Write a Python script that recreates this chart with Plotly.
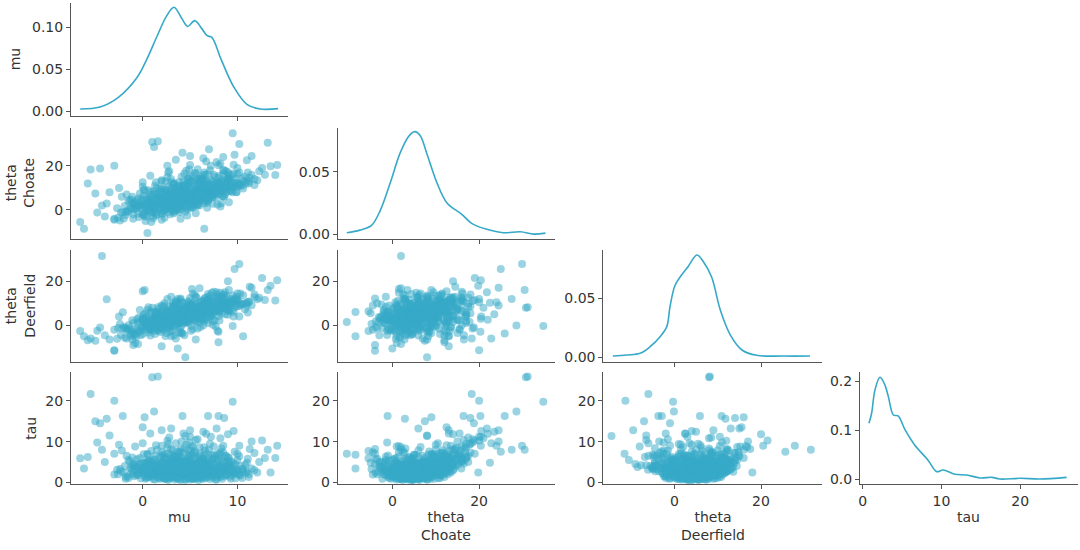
import plotly.graph_objects as go

# posterior draws (same index = same draw in every list)
mu = [
    4.2, 3.1, 5.6, 1.2, 7.3, 2.5, 6.1, 0.3, 8.8, 4.9,
    3.6, -1.2, 5.0, 9.6, 2.0, 6.8, 1.6, 4.5, 10.3, 3.3,
    5.3, 0.8, 7.9, 2.9, 6.4, -0.5, 4.0, 8.2, 1.9, 5.9,
    3.8, 9.1, 2.2, 6.6, -2.0, 4.7, 7.0, 0.1, 5.4, 3.0,
    11.2, 1.4, 4.3, 8.5, 2.7, 6.2, -0.9, 5.1, 3.5, 9.9,
    4.6, 2.3, 7.6, 0.6, 5.7, 3.9, 10.8, -1.6, 6.9, 1.0,
    4.4, 8.0, 2.6, 5.5, -2.7, 3.4, 7.4, 1.8, 9.3, 4.8,
    0.0, 6.0, 3.2, 12.1, 2.1, 5.2, 7.7, -0.2, 4.1, 8.6,
    1.5, 6.5, 3.7, 10.0, 2.8, 5.8, -1.0, 4.9, 7.1, 0.4,
    5.0, 3.0, 8.9, 1.3, 6.3, 4.2, 11.5, 2.4, 5.6, -3.0,
    3.6, 7.2, 0.9, 4.5, 9.4, 2.0, 6.7, 3.3, 5.3, 1.1,
    8.3, 4.0, -0.7, 6.0, 2.6, 7.8, 3.9, 10.6, 5.1, 1.7,
    4.6, 0.2, 6.4, 3.1, 8.1, -1.4, 5.7, 2.4, 9.0, 4.3,
    7.5, 1.9, 5.9, 3.5, -2.3, 6.8, 4.7, 2.8, 10.1, 0.7,
    -5.5, 1.0, 1.6, -3.0, 9.5, 1.2, 4.2, 6.9, 8.0, -3.8,
    -2.1, -5.0, 8.6, 0.2, -4.3, -6.6, -6.2, -5.8, -4.8, -4.5,
    13.5, 14.2, 13.2, 12.6, 12.9, 11.8, 14.0, 10.2, 9.7, 7.0,
    0.5, 6.5, 4.5, 3.7, -3.0, -0.5, 2.0, 8.0, 10.6, -1.0,
    5.0, 6.7, 2.6, 3.5, 8.5, 11.0, 7.8, 0.0,
    3.8, 5.4, 2.2, 6.1, 4.5, 0.9, 7.4, 3.2, 9.7, 1.3,
    5.2, 4.1, 8.4, -1.8, 6.3, 2.7, 5.8, 3.4, 7.1, 0.5,
    4.8, 9.2, 2.1, 6.6, 3.9, -0.3, 5.5, 8.0, 1.6, 4.4,
    7.6, 2.9, -3.5, 0.8, 3.0, 5.8, 9.0, -2.5, 11.5, 12.3, -4.0, 6.0,
    3.4, 5.9, 1.1, 7.8, 4.6, -1.5, 9.8, 2.7, 6.7, 0.3,
    5.1, 2.3, 8.2, -1.1, 4.0, 10.2, 6.1, 0.9, 3.3, 7.5,
    4.9, 2.0, 6.2, 3.1, 8.7, 1.4, 5.6, 9.0, -0.4, 4.3,
    7.0, 3.6, 0.6, 5.8, 2.9, 8.0, 4.1, 6.5, 1.8, 10.9,
    3.7, 5.3, -0.8, 7.3, 2.4, 6.0, 4.4, 9.5, 1.2, 5.0,
    3.9, 6.8, 2.5, 8.4, 0.2, 4.7, 7.2, 3.0, 5.7, 1.6,
    11.8, 4.2, -2.4, 6.4, 2.8, 8.9, 5.4, 0.0, 7.9, 3.5,
    4.8, 1.0, 6.9, 3.2, 9.3, 2.2, 5.6, -1.3, 7.7, 4.5,
    2.9, 6.3, 0.7, 5.2, 8.6, 3.8, 10.5, 1.9, 6.0, 4.3,
    -0.1, 5.9, 3.3, 7.6, 2.5, 9.1, 4.9, 1.3, 6.7, 3.6,
    8.1, 2.1, 5.5, 4.0, 0.4, 7.0, 3.1, 6.1, 10.3, 1.7,
    4.6, -1.9, 6.6, 3.4, 8.3, 2.6, 5.1, 7.4, 0.8, 4.2,
    5.9, 2.9, 8.8, -0.6, 4.4, 6.9, 1.5, 10.0, 3.7, 7.1,
    2.0, 5.3, -2.2, 8.2, 4.1, 11.3, 0.0, 6.4, 2.8, 9.6,
    -1.8, 10.5, 0.9, 9.2, 2.4, 8.4, -0.9, 11.2, 1.7, 7.1,
    3.0, 6.3, 1.2, 9.6, -1.2, 4.9, 7.9, 2.3, 5.6, 0.3,
    3.9, 5.0, 6.6, 2.0, 8.8, 4.3, 0.6, 7.4, 3.5, 5.7,
    -2.6, 11.0, 0.0, 9.9, 1.4, 8.1, -0.5, 10.2, 2.9, 6.9,
    4.6, 3.2, 5.8, 1.1, 7.6, 4.0, 6.2, 2.6, 8.7, 0.2,
    4.5, 6.5, 2.2, 5.3, 8.3, -0.2, 3.6, 7.2, 1.5, 5.1,
    3.1, 6.0, 0.9, 8.0, 4.2, 2.5, 6.8, -1.5, 5.4, 9.4,
    3.3, 6.1, 1.8, 4.8, 7.7, 0.5, 5.5, 2.7, 8.5, 4.0,
    6.3, 3.7, 5.4, 4.5, 2.8, 7.0, 1.3, 9.3, 6.0, 3.0,
    4.9, 2.1, 7.3, 0.7, 6.4, 3.4, 9.7, 5.6, -1.0, 8.2,
    4.4, 1.9, 6.9, 3.8, 5.2, 2.4, 7.8, 4.7, 0.4, 6.6,
    3.5, 5.9, 1.6, 7.4, 4.1, 9.0, 2.7, 6.7, -0.4, 5.0,
    0.1, 9.1, 4.4, 2.0, 6.6, -1.7, 11.1, 5.2, 3.0, 7.9,
    1.1, 5.7, 8.7, 3.9, -0.3, 6.4, 2.4, 10.0, 4.7, 7.3,
    0.8, 5.5, 3.3, 8.5, 2.0, 6.2, -1.1, 9.8, 4.6, 7.0,
    3.7, 5.0, 2.6, 7.5, 1.0, 6.0, 4.2, 8.9, -0.6, 5.8,
    3.6, 6.8, 1.7, 9.4, 4.8, 0.0, 5.9, 2.8, 7.6, 4.1,
    3.2, 6.5, 1.4, 8.3, 4.9, -0.8, 5.6, 2.7, 7.2, 4.3,
    4.0, 5.3, 2.3, 7.7, 3.0, 6.1, 0.5, 8.1, 4.9, 1.8,
    5.1, 3.5, 6.7, 1.3, 8.8, 4.4, 2.2, 7.1, 5.8, 0.6,
]
tau = [
    2.1, 1.5, 3.4, 2.8, 1.9, 4.6, 2.4, 1.2, 3.0, 5.2,
    1.0, 2.3, 1.7, 2.2, 6.3, 4.1, 1.4, 2.9, 1.6, 3.7,
    0.9, 3.3, 2.6, 2.0, 5.8, 1.8, 4.4, 1.3, 2.5, 3.1,
    7.2, 4.0, 1.1, 2.7, 2.4, 1.6, 3.8, 4.9, 2.2, 6.8,
    2.0, 3.6, 0.8, 5.1, 2.2, 1.4, 3.9, 4.7, 2.6, 3.2,
    9.3, 1.9, 2.3, 5.5, 1.2, 3.5, 4.3, 1.5, 6.0, 2.1,
    3.0, 1.8, 4.2, 2.5, 3.1, 1.3, 5.6, 0.9, 2.8, 7.9,
    2.6, 3.3, 1.7, 2.4, 5.0, 2.0, 4.5, 1.0, 3.9, 1.5,
    3.2, 2.1, 5.9, 2.9, 1.6, 4.8, 2.7, 1.1, 3.6, 4.0,
    11.2, 2.3, 2.0, 6.5, 1.7, 2.8, 3.4, 3.0, 0.9, 1.9,
    4.6, 2.5, 1.4, 5.3, 1.8, 2.9, 3.8, 1.2, 7.0, 2.2,
    3.5, 1.5, 3.7, 2.4, 8.5, 1.3, 2.7, 2.6, 3.1, 4.3,
    2.0, 1.7, 4.9, 3.3, 2.2, 5.2, 1.9, 1.0, 6.1, 3.4,
    2.8, 2.0, 1.5, 6.2, 2.7, 2.3, 4.4, 3.9, 1.9, 3.0,
    21.7, 25.8, 26.0, 20.0, 19.8, 17.4, 16.3, 16.3, 16.3, 15.6,
    16.3, 15.0, 15.8, 16.0, 8.0, 5.9, 3.4, 6.2, 9.8, 14.5,
    2.4, 9.0, 8.0, 10.3, 6.0, 7.2, 6.0, 9.0, 7.5, 8.0,
    7.0, 6.8, 11.4, 5.5, 7.0, 3.8, 12.8, 4.2, 3.2, 4.5,
    12.8, 11.9, 10.2, 9.6, 9.0, 4.8, 13.2, 13.5,
    1.3, 2.6, 3.4, 1.1, 4.0, 2.4, 1.6, 5.1, 2.3, 1.8,
    3.7, 2.2, 3.3, 1.4, 5.4, 1.0, 2.0, 4.7, 2.9, 2.0,
    1.4, 4.4, 6.7, 1.9, 3.0, 2.9, 7.6, 2.1, 4.1, 1.8,
    6.6, 2.4, 11.5, 12.0, 13.2, 10.6, 11.8, 9.2, 10.0, 5.0, 5.0, 8.6,
    0.7, 0.6, 0.8, 0.7, 0.9, 1.1, 1.0, 0.6, 1.2, 0.9,
    7.8, 6.9, 7.4, 6.1, 8.2, 6.4, 7.1, 7.7, 6.6, 8.8,
    2.5, 3.2, 3.6, 4.3, 2.7, 2.0, 4.0, 3.1, 2.6, 3.8,
    2.2, 2.9, 3.5, 2.6, 4.8, 3.9, 1.9, 4.6, 3.0, 2.3,
    5.6, 1.3, 4.4, 3.4, 2.7, 5.0, 2.3, 3.7, 4.6, 3.2,
    6.0, 1.5, 3.8, 2.4, 3.0, 5.7, 2.7, 1.6, 4.1, 2.5,
    3.0, 3.6, 3.3, 2.0, 5.3, 4.9, 2.8, 4.2, 3.3, 2.1,
    6.3, 3.9, 4.5, 2.4, 2.9, 5.0, 3.0, 3.6, 2.4, 4.4,
    3.4, 3.8, 2.3, 4.9, 3.5, 2.6, 3.3, 4.8, 2.9, 5.0,
    3.4, 2.4, 5.5, 3.0, 2.7, 5.2, 3.5, 5.6, 2.2, 4.2,
    6.8, 2.9, 3.3, 6.2, 4.9, 4.1, 3.7, 5.9, 4.0, 3.6,
    4.7, 4.0, 3.2, 6.4, 5.5, 4.5, 6.6, 5.8, 5.2, 4.8,
    5.0, 6.0, 6.5, 5.7, 7.3, 6.9, 8.0, 7.0, 7.6, 9.5,
    9.0, 8.7, 7.8, 10.8, 10.0, 8.2, 9.6, 12.4, 11.0, 12.6,
    0.9, 1.1, 1.9, 1.4, 0.8, 0.9, 1.5, 1.3, 1.1, 0.8,
    5.2, 4.4, 3.7, 4.6, 3.3, 5.8, 5.3, 5.8, 6.3, 4.8,
    0.9, 0.7, 1.0, 1.3, 1.8, 1.6, 1.4, 1.2, 1.8, 1.5,
    2.0, 2.7, 2.3, 2.6, 2.8, 2.5, 2.2, 2.0, 2.5, 2.6,
    3.0, 3.2, 3.4, 3.1, 3.6, 3.5, 3.1, 3.4, 3.8, 3.6,
    4.2, 4.1, 4.3, 4.5, 4.0, 4.6, 4.2, 4.7, 4.1, 4.4,
    5.1, 5.3, 5.0, 5.6, 5.4, 5.7, 5.2, 5.5, 5.9, 5.1,
    6.1, 6.5, 6.3, 6.7, 6.2, 6.8, 7.2, 7.0, 7.3, 7.6,
    0.8, 0.9, 1.1, 0.6, 1.0, 1.4, 0.7, 0.9, 1.7, 1.5,
    2.0, 2.2, 2.1, 2.6, 2.4, 2.3, 2.5, 2.2, 2.0, 2.8,
    2.6, 3.3, 3.0, 3.9, 2.9, 3.6, 3.4, 3.7, 3.2, 3.5,
    4.7, 4.3, 4.9, 4.5, 4.0, 4.2, 4.5, 4.8, 4.3, 4.6,
    6.9, 6.0, 8.4, 7.4, 7.8, 6.5, 5.8, 8.9, 8.1, 7.0,
    5.6, 5.3, 6.4, 6.6, 6.0, 5.8, 6.2, 5.5, 5.0, 6.7,
    4.0, 3.9, 4.3, 4.7, 4.6, 4.9, 4.2, 4.4, 3.8, 4.0,
    1.9, 1.7, 2.1, 1.8, 1.6, 2.0, 2.4, 1.9, 1.8, 1.2,
    3.0, 3.2, 2.9, 3.1, 2.7, 2.8, 3.4, 3.1, 2.7, 3.3,
    7.9, 8.6, 9.1, 8.3, 9.8, 8.8, 10.4, 9.4, 11.2, 12.0,
    0.6, 0.8, 0.9, 0.7, 1.2, 1.3, 1.2, 1.6, 1.0, 1.6,
    3.0, 4.6, 3.8, 4.4, 3.6, 4.8, 3.5, 5.0, 4.1, 5.1,
]
theta_choate = [
    5.0, 4.2, 9.1, 0.4, 8.6, 7.8, 5.2, 1.1, 11.9, 10.6,
    3.9, 0.5, 6.1, 10.4, 9.7, 3.2, 2.9, 7.4, 11.2, -0.4,
    5.8, 4.6, 10.1, 1.8, 13.9, -1.6, 2.1, 9.0, 4.8, 6.9,
    12.5, 14.6, 2.6, 4.0, -3.9, 5.5, 11.7, 6.4, 3.5, 8.3,
    12.8, -2.5, 4.9, 16.2, 3.8, 7.0, 3.0, 0.9, 6.5, 8.1,
    17.8, 0.2, 9.9, 8.9, 5.1, 9.2, 15.1, -0.3, 4.4, 3.4,
    1.9, 7.2, 7.1, 8.0, 0.8, 2.3, 12.9, 2.0, 10.8, 14.3,
    -2.2, 8.7, 3.0, 13.5, -1.5, 6.8, 5.6, 0.6, 10.2, 9.4,
    5.3, 6.0, 0.7, 12.3, 4.1, 11.4, 2.4, 4.6, 9.6, -3.1,
    20.4, 5.7, 8.4, 11.0, 7.8, 3.1, 15.9, 6.2, 6.3, -4.5,
    8.8, 6.6, 1.5, -0.8, 11.0, 3.3, 13.0, 3.6, 15.5, -1.0,
    12.2, 4.7, 1.6, 4.8, 14.8, 8.3, 7.9, 9.7, 2.7, 5.9,
    6.4, 2.8, 10.9, 0.0, 10.5, 4.5, 5.4, 2.7, 17.1, 8.5,
    7.7, 0.9, 7.3, 1.3, -1.2, 9.2, 11.8, -0.9, 10.9, 4.3,
    18.3, 30.8, 31.2, 20.0, 34.8, 28.6, 25.9, 16.4, 20.3, 2.9,
    -1.1, 7.5, 18.0, 9.0, 2.0, -5.5, -8.5, 12.0, -1.2, 18.8,
    19.8, 20.4, 30.5, 19.0, 16.0, 11.3, 15.8, 29.9, 25.0, 27.5,
    -10.5, -8.5, 8.0, 0.0, -4.0, 2.0, 13.0, 12.0, 13.0, -4.0,
    24.5, 22.0, 20.0, 22.8, 24.0, 22.5, 21.8, 12.5,
    4.4, 7.6, 1.0, 6.5, 9.8, 3.2, 6.8, 7.0, 11.8, 0.0,
    4.0, 5.9, 6.3, -1.0, 12.7, 3.1, 4.6, 9.9, 10.0, 0.2,
    5.3, 13.8, 5.0, 8.0, 3.3, 1.8, 16.8, 9.7, 6.2, 4.1,
    15.0, 2.4, 8.0, 15.5, 6.0, 18.5, 14.0, 10.0, 24.5, 17.5, -3.0, 2.0,
    3.7, 6.2, 1.6, 8.1, 4.0, -0.8, 10.6, 2.4, 7.6, -0.3,
    13.2, 9.5, 1.5, 6.0, -4.0, 17.0, 14.2, -5.5, 12.0, 16.0,
    6.8, -1.8, 10.5, 8.1, 7.0, 3.9, 2.0, 12.5, -3.2, 9.4,
    5.6, 5.1, 3.9, 8.9, -2.0, 12.6, 2.8, 3.0, 5.5, 12.0,
    11.0, 4.4, 3.5, 9.8, 0.3, 11.5, 6.2, 8.0, 6.8, 1.5,
    10.8, 7.5, 5.9, 10.2, -1.8, 0.3, 9.0, 2.0, 9.6, 2.6,
    14.0, 7.8, -4.8, 5.3, 8.9, 14.9, 3.6, 4.6, 11.0, 4.9,
    12.3, -2.8, 8.0, 5.6, 8.5, 7.8, 8.3, 1.0, 10.4, 1.0,
    6.7, 11.2, -0.6, 9.9, 6.0, 1.6, 14.2, 8.0, 4.1, 10.0,
    2.9, 7.9, -1.5, 9.3, 4.5, 16.0, 6.0, 7.4, 8.6, 6.9,
    15.5, -0.6, 7.1, 3.9, 5.6, 12.0, 1.4, 13.5, 11.5, 4.0,
    8.4, 1.8, 6.0, 9.8, 13.2, 0.5, 12.9, 2.8, 8.1, 5.0,
    14.0, 4.8, 17.5, 4.5, 11.5, 9.0, 10.0, 19.0, 2.5, 18.0,
    13.5, 6.5, 6.0, 21.0, 15.0, 14.5, 10.5, 23.5, 17.5, 20.5,
    -2.3, 11.0, -1.0, 8.6, 2.0, 8.8, 0.3, 12.0, 2.5, 7.5,
    12.5, 14.0, 8.5, 16.5, 4.6, 15.0, 2.5, -3.5, -1.5, -5.0,
    4.5, 4.6, 7.2, 2.9, 9.9, 5.5, 0.0, 6.6, 2.3, 6.8,
    -3.5, 13.3, 2.0, 8.0, -1.3, 11.0, 1.9, 11.8, 5.4, 4.3,
    7.9, 6.0, 2.6, 4.4, 11.6, 0.2, 9.4, 6.9, 13.0, -2.8,
    10.6, 10.2, 6.4, 1.2, 12.8, 4.2, 9.0, 13.5, -2.0, 9.5,
    10.0, 12.4, 7.0, 14.5, 11.0, 9.0, 1.0, 3.8, 13.0, 15.8,
    12.0, 15.2, 9.5, 14.0, 12.2, 5.0, 2.8, 10.6, 18.0, 8.5,
    6.0, 3.2, 6.0, 4.8, 3.3, 7.9, 1.0, 9.6, 5.1, 3.9,
    3.2, 3.5, 8.9, 2.9, 7.7, 1.3, 12.6, 7.5, -2.0, 9.3,
    6.3, 3.6, 10.9, 8.1, 6.6, 0.4, 8.2, 10.2, 2.2, 5.0,
    4.3, 11.8, 7.2, 8.6, 7.0, 13.9, 1.2, 13.3, 5.3, 5.8,
    9.0, 3.5, 16.5, -4.5, 15.8, 7.0, 17.0, 1.5, 14.0, 12.0,
    -3.8, 13.5, 9.5, -1.0, 7.5, 16.0, 13.0, 16.2, -2.5, 5.5,
    6.0, 12.0, -0.8, 6.2, 8.8, 13.2, 2.8, 14.0, 1.5, 5.8,
    3.0, 6.5, 4.4, 6.1, 2.2, 7.7, 2.3, 10.6, 0.8, 5.2,
    0.5, 10.6, 4.9, 12.4, 8.2, -1.7, 3.2, 6.3, 9.8, 5.6,
    11.5, 17.0, 12.5, 3.0, 18.5, 1.0, 16.5, 17.0, 20.0, 13.0,
    4.3, 5.0, 2.9, 8.0, 2.2, 7.0, 1.3, 7.3, 5.6, 0.6,
    9.0, 7.6, 4.5, 1.8, 11.3, 11.0, -0.3, 10.8, 2.0, 3.0,
]
theta_deerfield = [
    3.9, 2.6, 4.8, 2.9, 7.9, -1.2, 8.3, 0.0, 7.5, 1.8,
    3.4, -2.8, 5.9, 11.5, 3.5, 10.9, 1.0, 6.2, 9.4, 5.6,
    5.0, -2.1, 8.8, 4.4, 2.7, 0.9, 8.7, 7.6, 1.3, 3.3,
    -3.4, 6.5, 2.9, 9.8, -0.8, 3.8, 6.1, 2.2, 7.1, -5.0,
    10.6, 4.1, 4.0, 12.4, 0.6, 6.8, -4.6, 9.4, 4.8, 13.0,
    1.5, 3.1, 5.7, -0.5, 6.6, 1.0, 7.3, -2.4, 14.2, 1.7,
    5.3, 9.5, 6.9, 2.4, -6.1, 4.5, 1.9, 1.4, 12.1, 8.1,
    1.9, 9.0, 2.0, 11.8, 5.9, 4.3, 12.8, -0.9, -0.2, 8.0,
    -1.8, 7.4, 10.5, 8.6, 3.7, 5.1, -3.6, 5.4, 3.9, 3.8,
    3.0, 1.1, 10.2, -4.0, 5.6, 6.7, 9.1, 0.1, 5.2, -2.0,
    7.7, 9.3, 0.2, 4.6, 9.8, -1.0, 6.0, 2.8, -1.7, 2.5,
    5.5, 4.9, -5.2, 7.8, 6.3, 7.0, 2.1, 13.6, 5.7, 7.4,
    3.6, -0.6, 11.2, 4.2, 6.4, -1.3, 8.0, 2.3, 4.8, 0.8,
    10.4, 3.6, 5.8, 11.1, -4.4, 7.2, 2.6, 6.0, 11.0, 0.4,
    -6.0, 8.0, 8.2, -11.3, -0.3, -0.1, -3.7, 10.9, -2.9, 11.8,
    5.9, -7.0, 14.0, 16.0, 31.5, -2.6, -5.0, -6.8, -2.5, -1.0,
    18.0, 20.5, 16.0, 21.5, 11.5, 14.0, 11.3, 27.8, 25.6, 12.0,
    1.5, 6.0, -14.5, -10.5, -11.5, -8.5, -9.5, -7.7, -5.0, -9.0,
    9.0, 2.5, 12.0, -6.0, 10.5, 10.2, 15.0, 15.5,
    3.5, 4.1, 5.0, 6.0, 3.0, -1.5, 8.5, 9.1, 8.2, 2.0,
    9.6, 1.7, 11.0, -1.5, 3.2, 2.4, 7.5, -0.6, 9.0, 1.6,
    4.4, 10.0, 8.6, 6.3, 6.4, -2.8, 4.0, 6.9, -2.5, 5.8,
    2.3, 4.0, -6.5, -2.0, 13.0, -1.5, 20.0, 4.0, 17.0, 12.5, -4.5, 16.8,
    3.1, 5.6, 0.7, 7.4, 5.2, -2.0, 9.3, 3.0, 6.0, 0.9,
    -2.5, 8.7, 14.8, 2.3, 12.2, 4.0, 10.8, 6.4, -4.5, 15.2,
    2.7, 4.9, 3.6, -2.6, 11.6, 0.5, 9.7, 7.0, 1.5, 5.4,
    8.9, 0.2, -3.3, 6.5, 7.0, 4.2, 5.0, 12.0, 2.7, 10.0,
    6.8, 6.1, -4.0, 4.5, 5.3, 8.5, 2.5, 13.5, -0.7, 7.2,
    -1.6, 7.9, 6.6, 9.1, 3.2, 8.0, 4.9, 3.9, 1.6, -0.9,
    12.7, 7.3, 0.6, 7.7, -0.3, 7.8, 6.9, -3.9, 10.8, 2.2,
    1.0, 3.4, 12.9, 2.4, 11.3, 4.7, 3.1, -4.8, 8.4, 7.5,
    -0.1, 6.3, 2.9, 10.0, 10.4, 4.7, 9.6, -3.0, 8.8, 5.8,
    -2.2, 4.6, 8.3, 7.8, 1.9, 6.6, 9.2, 4.3, 5.4, 0.4,
    2.2, 2.2, 7.6, 11.6, 0.0, 9.9, 5.9, -0.8, 14.4, -2.0,
    3.5, -5.5, 10.1, 8.9, 12.6, 2.6, 6.4, 11.7, -1.4, 10.3,
    4.4, -2.9, 9.8, 2.8, 8.4, 1.0, 5.0, 11.5, 12.0, 5.5,
    -1.0, 14.5, -1.5, 8.0, -3.5, 17.5, 3.5, 5.0, 8.5, 4.0,
    -1.2, 9.9, 2.3, 10.4, 2.9, 8.0, -2.1, 10.8, 1.0, 6.6,
    0.0, 4.2, -2.5, 6.0, -4.0, 7.5, 14.0, 10.0, 13.0, 5.5,
    3.3, 5.5, 6.2, 1.4, 8.1, 3.4, 1.3, 8.0, 4.5, 5.0,
    -1.2, 9.0, -1.0, 12.0, 3.8, 6.2, -2.6, 8.8, 0.9, 9.5,
    6.8, -0.5, 7.0, 2.1, 10.6, 7.3, 2.9, 5.3, 5.0, 2.7,
    1.5, 11.0, -2.0, 8.8, 11.5, -4.5, 8.0, 4.0, 6.1, -0.2,
    3.8, 1.3, 5.8, 13.0, 10.5, -3.5, 8.3, 0.0, 6.5, 10.8,
    7.8, 3.0, 1.0, 10.5, -0.5, 7.0, 13.8, 4.5, 8.5, -3.0,
    6.7, 4.2, 4.8, 4.2, 2.3, 6.3, 1.7, 9.0, 7.3, 2.0,
    6.3, -0.2, 5.8, -1.4, 8.8, 5.0, 10.8, 3.7, 1.0, 12.2,
    3.0, 4.3, 7.1, 1.1, 8.6, 3.3, 11.8, 4.7, -1.8, 6.0,
    9.7, 8.0, 3.0, 0.3, 5.6, 9.2, 0.8, 9.6, 3.5, 12.4,
    4.8, 16.0, -4.5, 9.0, 12.5, -6.0, 5.8, 16.5, 1.5, -2.5,
    1.8, 12.5, 15.0, 3.0, 7.0, 0.0, -4.8, 14.5, 9.5, 14.8,
    -4.6, 2.0, 9.0, 13.8, 5.5, 8.6, -6.5, 12.0, 1.6, 11.2,
    5.5, 3.7, 1.3, 9.0, -0.3, 4.7, 6.6, 7.6, -1.9, 6.8,
    2.0, 6.5, 5.3, 6.8, 8.3, 2.6, 10.3, -1.2, 6.4, 3.9,
    10.0, 2.0, 6.0, 8.0, 11.0, -8.0, -6.5, 1.0, 10.5, 2.5,
    3.7, 5.9, 1.9, 7.3, 3.6, 5.5, 0.0, 8.9, 4.4, 2.8,
    5.0, 10.5, 3.5, 5.8, 13.2, 7.5, -1.5, 13.5, 5.2, 8.2,
]

# marginal density curves
mu_kde_x = [-6.6, -4.5, -2.6, -0.6, 0.4, 1.5, 2.5, 3.3, 4.1, 4.75, 5.5, 6.2, 6.8, 7.3, 8.3, 9.6, 11.0, 12.4, 14.3]
mu_kde_y = [0.0024, 0.0048, 0.016, 0.040, 0.061, 0.089, 0.113, 0.124, 0.111, 0.101, 0.108, 0.099, 0.090, 0.088, 0.061, 0.029, 0.008, 0.0024, 0.0028]
choate_kde_x = [-10.5, -7.5, -4.8, -2.8, -0.5, 1.8, 3.7, 5.1, 6.4, 7.9, 10.3, 12.6, 16.0, 18.3, 21.8, 25.6, 29.5, 32.6, 35.3]
choate_kde_y = [0.0013, 0.0034, 0.0072, 0.019, 0.041, 0.065, 0.078, 0.082, 0.079, 0.065, 0.041, 0.025, 0.016, 0.0088, 0.0040, 0.0013, 0.0021, 0.0002, 0.001]
deerfield_kde_x = [-14.2, -11.0, -7.9, -5.6, -3.3, -1.75, -1.0, 0.16, 1.7, 3.2, 5.2, 6.7, 8.6, 10.6, 12.9, 15.6, 19.0, 25.2, 31.3]
deerfield_kde_y = [0.0011, 0.002, 0.0034, 0.009, 0.0175, 0.026, 0.043, 0.061, 0.070, 0.077, 0.0867, 0.081, 0.068, 0.040, 0.019, 0.0062, 0.0017, 0.0011, 0.0011]
tau_kde_x = [0.8, 1.14, 1.56, 2.2, 2.83, 3.25, 3.9, 4.5, 5.4, 6.6, 8.3, 9.4, 10.2, 11.7, 13.2, 14.9, 16.4, 17.4, 20.0, 22.5, 25.9]
tau_kde_y = [0.114, 0.135, 0.182, 0.208, 0.192, 0.169, 0.131, 0.129, 0.100, 0.070, 0.039, 0.0156, 0.019, 0.0102, 0.0088, 0.0027, 0.004, 0.0006, 0.002, 0.0006, 0.004]

assert len(mu) == len(tau) == len(theta_choate) == len(theta_deerfield), \
    (len(mu), len(tau), len(theta_choate), len(theta_deerfield))

COLOR = "#36a9c8"
W, H = 1080, 550

# panel edges in pixels
col_px = [(71, 288), (337.7, 555), (603.3, 821.7), (860, 1077.7)]
row_px = [(3, 115.7), (127.5, 239), (250, 362.3), (372.3, 484)]

draws = [mu, theta_choate, theta_deerfield, tau]
kdes = [(mu_kde_x, mu_kde_y), (choate_kde_x, choate_kde_y),
        (deerfield_kde_x, deerfield_kde_y), (tau_kde_x, tau_kde_y)]
x_ranges = [[-7.57, 15.34], [-12.6, 37.5], [-16.4, 34.0], [-0.34, 27.3]]
x_ticks = [[0, 10], [0, 20], [0, 20], [0, 10, 20]]
y_ranges_scatter = [None, [-13.2, 37.4], [-16.8, 34.2], [-0.4, 27.0]]
y_ticks_scatter = [None, [0, 20], [0, 20], [0, 10, 20]]
y_ranges_kde = [[-0.0056, 0.129], [-0.0037, 0.0853], [-0.0042, 0.0909], [-0.0096, 0.218]]
y_ticks_kde = [[0, 0.05, 0.1], [0, 0.05], [0, 0.05], [0, 0.1, 0.2]]
kde_fmt = [".2f", ".2f", ".2f", ".1f"]

axis_style = dict(
    showline=True, linecolor="#555555", linewidth=1,
    ticks="outside", ticklen=4, tickcolor="#555555", tickwidth=1,
    showgrid=False, zeroline=False, automargin=False,
    tickfont=dict(size=14, color="#333333"),
)

fig = go.Figure()
layout = {}
k = 0
for r in range(4):
    for c in range(r + 1):
        k += 1
        sfx = "" if k == 1 else str(k)
        xa, ya = "x" + sfx, "y" + sfx
        if r == c:
            fig.add_trace(go.Scatter(
                x=kdes[c][0], y=kdes[c][1], mode="lines",
                line=dict(color=COLOR, width=1.6, shape="spline"),
                xaxis=xa, yaxis=ya, hoverinfo="skip"))
            yr, yt, yf = y_ranges_kde[r], y_ticks_kde[r], kde_fmt[r]
        else:
            fig.add_trace(go.Scatter(
                x=draws[c], y=draws[r], mode="markers",
                marker=dict(color=COLOR, size=8, opacity=0.5, line=dict(width=0)),
                xaxis=xa, yaxis=ya))
            yr, yt, yf = y_ranges_scatter[r], y_ticks_scatter[r], None
        x0, x1 = col_px[c]
        y0, y1 = row_px[r]
        layout["xaxis" + sfx] = dict(axis_style, domain=[x0 / W, x1 / W], range=x_ranges[c],
                                     tickvals=x_ticks[c], showticklabels=(r == 3), anchor=ya)
        layout["yaxis" + sfx] = dict(axis_style, domain=[1 - y1 / H, 1 - y0 / H], range=yr,
                                     tickvals=yt, tickformat=yf, anchor=xa)

fig.update_layout(**layout)

# axis titles
label_font = dict(size=14, color="#333333")
x_labels = ["mu", "theta<br>Choate", "theta<br>Deerfield", "tau"]
y_labels = ["mu", "theta<br>Choate", "theta<br>Deerfield", "tau"]
y_label_px = [15, 20.5, 20.5, 30.7]
annotations = []
for i, text in enumerate(x_labels):
    x0, x1 = col_px[i]
    annotations.append(dict(text=text, xref="paper", yref="paper", x=(x0 + x1) / 2 / W,
                            y=1 - 507 / H, xanchor="center", yanchor="top",
                            showarrow=False, font=label_font))
for i, text in enumerate(y_labels):
    y0, y1 = row_px[i]
    annotations.append(dict(text=text, xref="paper", yref="paper", x=y_label_px[i] / W,
                            y=1 - (y0 + y1) / 2 / H, xanchor="center", yanchor="middle",
                            textangle=-90, showarrow=False, font=label_font))

fig.update_layout(
    width=W, height=H,
    margin=dict(l=0, r=0, t=0, b=0),
    showlegend=False,
    plot_bgcolor="white", paper_bgcolor="white",
    font=dict(family="DejaVu Sans", size=14, color="#333333"),
    annotations=annotations,
)

# drop the default page margin so the figure sits at the window's top-left corner
fig.write_html("out.html", config={"displayModeBar": False},
               post_script="document.body.style.margin = '0';")
